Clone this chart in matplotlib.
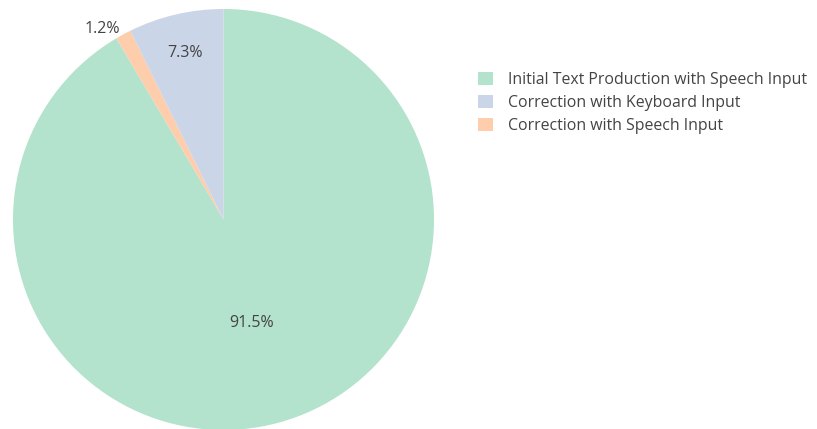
import numpy as np
import matplotlib
matplotlib.use("Agg")
import matplotlib.pyplot as plt
from matplotlib.patches import Patch

# slice order as drawn clockwise from 12 o'clock
labels = ["Initial Text Production with Speech Input",
          "Correction with Speech Input",
          "Correction with Keyboard Input"]
values = [91.5, 1.2, 7.3]
colors = ["#b3e2cd", "#fdcdac", "#cbd5e8"]
legend_order = [0, 2, 1]

plt.rcParams["font.family"] = ["Open Sans", "DejaVu Sans"]
txt_color = "#444444"

fig = plt.figure(figsize=(8.17, 4.29), dpi=100)
ax = fig.add_axes([13 / 817, -1 / 429, 421 / 817, 421 / 429])
wedges, _ = ax.pie(values, colors=colors, startangle=90, counterclock=False,
                   radius=1.0, wedgeprops=dict(linewidth=0))
ax.set_xlim(-1, 1); ax.set_ylim(-1, 1)
ax.set_aspect("equal")

# label placement: (distance from centre, horizontal alignment)
label_pos = [(0.51, "center"), (1.03, "right"), (0.81, "center")]
for w, v, (d, ha) in zip(wedges, values, label_pos):
    mid = np.deg2rad((w.theta1 + w.theta2) / 2)
    ax.text(d * np.cos(mid), d * np.sin(mid), f"{v}%", ha=ha, va="center",
            fontsize=11.5, color=txt_color)

handles = [Patch(facecolor=colors[i], edgecolor="none") for i in legend_order]
fig.legend(handles, [labels[i] for i in legend_order], loc="upper left",
           bbox_to_anchor=(464 / 817, 1 - 58 / 429), frameon=False,
           fontsize=11.4, labelcolor=txt_color, handlelength=0.9, handleheight=0.9,
           handletextpad=1.0, labelspacing=0.42)

fig.savefig("out.png", dpi=100)
